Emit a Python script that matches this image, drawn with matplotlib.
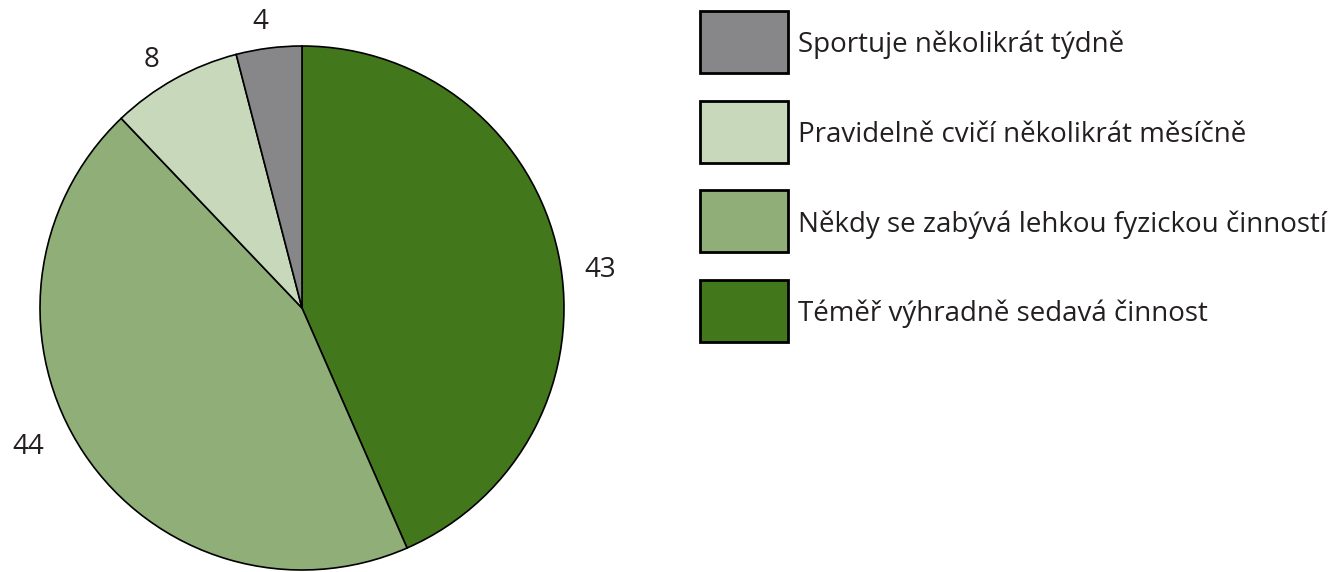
import matplotlib.pyplot as plt
from matplotlib.patches import Rectangle

categories = ['Téměř výhradně sedavá činnost',
              'Někdy se zabývá lehkou fyzickou činností',
              'Pravidelně cvičí několikrát měsíčně',
              'Sportuje několikrát týdně']
values = [43, 44, 8, 4]
colors = ['#43771c', '#8fae78', '#c8d9bb', '#87878a']

plt.rcParams['font.family'] = ['Open Sans', 'DejaVu Sans']
ink = '#231f20'
fs = 20

W, H = 1334, 572
fig = plt.figure(figsize=(W / 100, H / 100), dpi=100)

# pie axes: centre (302, 308) px, radius 262 px
r = 262
ax = fig.add_axes([(302 - r) / W, (H - 308 - r) / H, 2 * r / W, 2 * r / H])
wedges, texts = ax.pie(values, colors=colors, labels=[str(v) for v in values],
                       startangle=90, counterclock=False, radius=1,
                       labeldistance=1.1,
                       wedgeprops=dict(edgecolor='black', linewidth=1.2),
                       textprops=dict(fontsize=fs, color=ink))
# label placement as in the original (not exactly on the mid-angles)
label_pos = [(1.137, 0.145), (-1.046, -0.531), (-0.573, 0.947), (-0.160, 1.092)]
for t, (x, y) in zip(texts, label_pos):
    t.set_position((x, y))
    t.set_ha('center')
    t.set_va('center')
    t.set_clip_on(False)
ax.set_xlim(-1, 1)
ax.set_ylim(-1, 1)
ax.set_aspect('equal')
ax.axis('off')

# legend, reversed order, drawn in figure pixels
for i, (lab, col) in enumerate(zip(categories[::-1], colors[::-1])):
    top = 11 + 89.7 * i
    fig.patches.append(Rectangle((700 / W, 1 - (top + 62) / H), 88 / W, 62 / H,
                                 transform=fig.transFigure, facecolor=col,
                                 edgecolor='black', linewidth=2))
    fig.text(798 / W, 1 - (top + 34) / H, lab, fontsize=fs, color=ink,
             ha='left', va='center')

fig.savefig('out.png', dpi=100)
